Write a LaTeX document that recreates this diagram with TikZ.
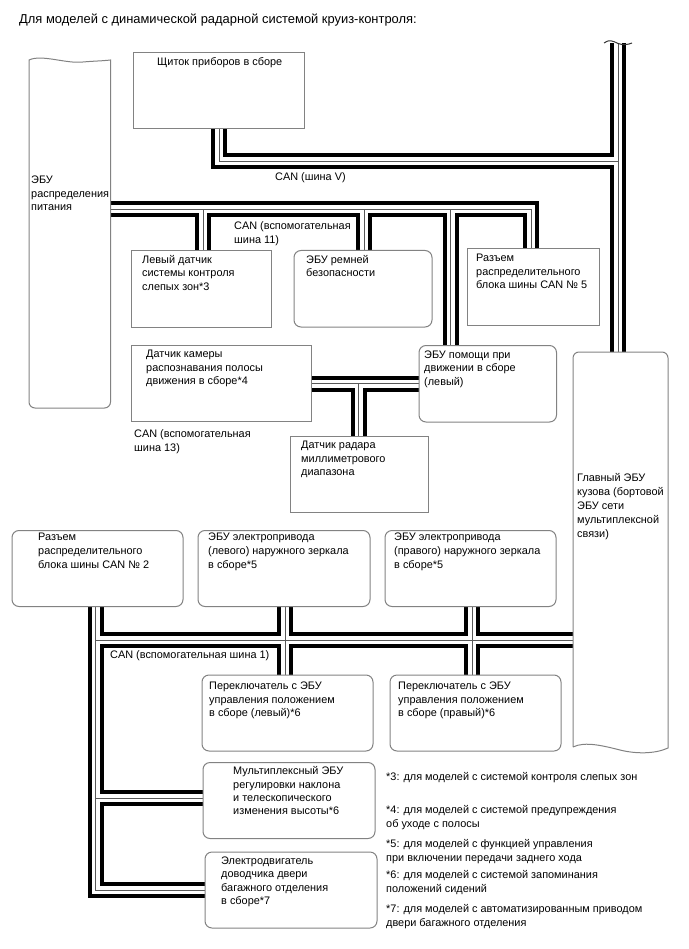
\documentclass[tikz,border=0pt]{standalone}
\usepackage{fontspec}
\setmainfont{Liberation Sans}
\usetikzlibrary{backgrounds}

\newcommand{\canbus}[1]{%
  \draw[busouter] #1;
  \draw[businner] #1;
  \draw[buscore] #1;
}

\begin{document}
\begin{tikzpicture}[x=1pt, y=-1pt, line join=miter,
  unit/.style={draw=boxgray, line width=1pt, inner sep=0pt, outer sep=0pt, anchor=north west},
  roundunit/.style={unit, rounded corners=7pt},
  anchorbox/.style={inner sep=0pt, outer sep=0pt, anchor=north west},
  busouter/.style={line width=16pt, black},
  businner/.style={line width=8pt, white},
  buscore/.style={line width=1pt, black!65},
  lbl/.style={anchor=north west, inner sep=0pt, align=left, font=\fontsize{10.9}{13.4}\selectfont},
  widelbl/.style={lbl, font=\fontsize{10.9}{14}\selectfont}]

% Colors
\definecolor{boxgray}{RGB}{130,130,130}

\useasboundingbox (0,0) rectangle (688,949);

% Title
\node[lbl, font=\fontsize{12.9}{15}\selectfont] (title) at (19,14) {Для моделей с динамической радарной системой круиз-контроля:};

% Power distribution unit, torn at the top
\node[anchorbox, minimum width=81.5pt, minimum height=350pt] (power) at (29,58) {};
\draw[draw=boxgray, line width=1pt] (29,60) .. controls (42,54) and (66,64) .. (83,62) .. controls (94,61) and (102,61) .. (110.5,60)
  [rounded corners=6pt] -- (110.5,408) -- (29,408) [sharp corners] -- cycle;
\node[lbl] (powertxt) at (31,176) {ЭБУ\\распределения\\питания};

% Main body unit, torn at the bottom
\node[anchorbox, minimum width=95pt, minimum height=400pt] (bcm) at (573,352) {};
\draw[draw=boxgray, line width=1pt] (573,747) [rounded corners=6pt] -- (573,352) -- (668,352) [sharp corners] -- (668,748)
  .. controls (655,754) and (636,754) .. (620,750) .. controls (604,746) and (585,741) .. (573,747);
\node[widelbl] (bcmtxt) at (577,473) {Главный ЭБУ\\кузова (бортовой\\ЭБУ сети\\мультиплексной\\связи)};

% Units on the upper buses
\node[unit, minimum width=171.5pt, minimum height=76pt] (panel) at (133,53) {};
\node[lbl] (paneltxt) at (157,57.5) {Щиток приборов в сборе};
\node[unit, minimum width=140pt, minimum height=76.5pt] (leftsens) at (131,250.5) {};
\node[lbl] (leftsenstxt) at (142,255) {Левый датчик\\системы контроля\\слепых зон*3};
\node[roundunit, minimum width=138pt, minimum height=76.5pt] (belt) at (294,250.5) {};
\node[lbl] (belttxt) at (306,255) {ЭБУ ремней\\безопасности};
\node[unit, minimum width=132pt, minimum height=76pt] (conn5) at (467,249) {};
\node[lbl] (conn5txt) at (476,254) {Разъем\\распределительного\\блока шины CAN № 5};
\node[roundunit, minimum width=137.5pt, minimum height=76.5pt] (assist) at (419,345.5) {};
\node[lbl] (assisttxt) at (424,350.5) {ЭБУ помощи при\\движении в сборе\\(левый)};
\node[unit, minimum width=180pt, minimum height=76pt] (camera) at (131,345) {};
\node[lbl] (cameratxt) at (146,350) {Датчик камеры\\распознавания полосы\\движения в сборе*4};
\node[unit, minimum width=138pt, minimum height=76pt] (radar) at (290,436) {};
\node[lbl] (radartxt) at (301,441) {Датчик радара\\миллиметрового\\диапазона};

% Units on the lower bus
\node[roundunit, minimum width=171pt, minimum height=76pt] (conn2) at (12,530.5) {};
\node[widelbl] (conn2txt) at (38,533) {Разъем\\распределительного\\блока шины CAN № 2};
\node[roundunit, minimum width=172pt, minimum height=76pt] (mirrorl) at (198,530.5) {};
\node[widelbl] (mirrorltxt) at (208,533) {ЭБУ электропривода\\(левого) наружного зеркала\\в сборе*5};
\node[roundunit, minimum width=171pt, minimum height=76pt] (mirrorr) at (385,530.5) {};
\node[widelbl] (mirrorrtxt) at (394,533) {ЭБУ электропривода\\(правого) наружного зеркала\\в сборе*5};
\node[roundunit, minimum width=171pt, minimum height=76pt] (switchl) at (202,675) {};
\node[lbl] (switchltxt) at (209,682) {Переключатель с ЭБУ\\управления положением\\в сборе (левый)*6};
\node[roundunit, minimum width=171pt, minimum height=76pt] (switchr) at (390,675) {};
\node[lbl] (switchrtxt) at (398,682) {Переключатель с ЭБУ\\управления положением\\в сборе (правый)*6};
\node[roundunit, minimum width=172pt, minimum height=76pt] (multi) at (203,762.5) {};
\node[lbl] (multitxt) at (233,766.5) {Мультиплексный ЭБУ\\регулировки наклона\\и телескопического\\изменения высоты*6};
\node[roundunit, minimum width=172pt, minimum height=76pt] (motor) at (205,852) {};
\node[lbl] (motortxt) at (221,856.5) {Электродвигатель\\доводчика двери\\багажного отделения\\в сборе*7};

% Junctions of the buses
\coordinate (vtop) at (618,43);
\coordinate (vjoin) at (618,161.5);
\coordinate (vstub) at (219,161.5);
\coordinate (b11a) at (203,209.5);
\coordinate (b11b) at (364,209.5);
\coordinate (b11c) at (450.5,209.5);
\coordinate (b11d) at (531,209.5);
\coordinate (b13a) at (358.5,383.5);
\coordinate (b1a) at (95.5,640);
\coordinate (b1b) at (285,640);
\coordinate (b1c) at (472,640);
\coordinate (b1d) at (95.5,798);
\coordinate (b1e) at (95.5,890);

\begin{scope}[on background layer]
  % CAN (V)
  \canbus{(vtop) -- (vtop |- bcm.north) (vstub |- panel.south) -- (vstub) -- (vjoin)}
  % CAN (11)
  \canbus{(power.east |- b11a) -- (b11d) -- (b11d |- conn5.north)
    (b11a) -- (b11a |- leftsens.north) (b11b) -- (b11b |- belt.north) (b11c) -- (b11c |- assist.north)}
  % CAN (13)
  \canbus{(camera.east |- b13a) -- (assist.west |- b13a) (b13a) -- (b13a |- radar.north)}
  % CAN (1)
  \canbus{(b1a |- conn2.south) -- (b1e) -- (motor.west |- b1e)
    (b1a) -- (bcm.west |- b1a) (b1d) -- (multi.west |- b1d)
    (b1b |- mirrorl.south) -- (b1b |- switchl.north) (b1c |- mirrorr.south) -- (b1c |- switchr.north)}
\end{scope}

% Torn end of the vertical bus
\draw[draw=black!80, line width=1pt] (604,43) .. controls (609,39) and (613,41) .. (618,43.5) .. controls (622,45) and (628,45) .. (632,43);

% Bus names
\node[lbl] (canv) at (275,172) {CAN (шина V)};
\node[widelbl] (can11) at (234,221) {CAN (вспомогательная\\шина 11)};
\node[widelbl] (can13) at (134,429) {CAN (вспомогательная\\шина 13)};
\node[lbl] (can1) at (110,650) {CAN (вспомогательная шина 1)};

% Footnotes
\node[lbl] (fn3) at (386,772) {*3: для моделей с системой контроля слепых зон};
\node[widelbl] (fn4) at (386,805) {*4: для моделей с системой предупреждения\\об уходе с полосы};
\node[widelbl] (fn5) at (386,839) {*5: для моделей с функцией управления\\при включении передачи заднего хода};
\node[widelbl] (fn6) at (386,870) {*6: для моделей с системой запоминания\\положений сидений};
\node[widelbl] (fn7) at (386,904) {*7: для моделей с автоматизированным приводом\\двери багажного отделения};

\end{tikzpicture}
\end{document}
